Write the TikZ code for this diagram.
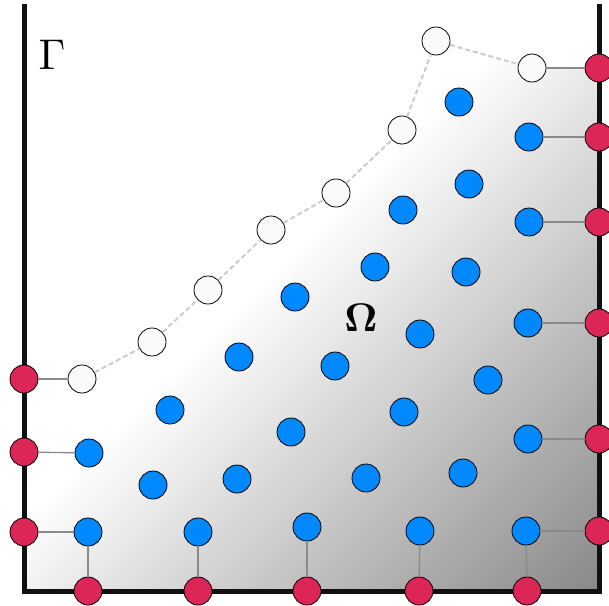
\documentclass[tikz,border=0pt]{standalone}
\usetikzlibrary{calc}
\definecolor{bnode}{HTML}{0088FF}
\definecolor{rnode}{HTML}{DC2657}
\definecolor{wnode}{HTML}{FAFAFA}
\definecolor{wall}{HTML}{111111}
\definecolor{conn}{HTML}{8A8A8A}
\definecolor{dashc}{HTML}{CCCCCC}
\pgfdeclareverticalshading{diagshade}{100bp}{color(0bp)=(black!48); color(15bp)=(black!48); color(54bp)=(white); color(100bp)=(white)}
\tikzset{
  pt/.style={circle, draw=black, line width=0.8pt, minimum size=28pt, inner sep=0pt},
  inner/.style={pt, fill=bnode},
  bnd/.style={pt, fill=rnode},
  ghost/.style={pt, fill=wnode},
  link/.style={draw=conn, line width=1.3pt},
  hull/.style={draw=dashc, line width=2pt, dash pattern=on 5pt off 3pt},
  wallline/.style={draw=wall, line width=5pt, line join=miter},
}
\begin{document}
\begin{tikzpicture}[x=1pt,y=-1pt]
\useasboundingbox (0,0) rectangle (609,605);
% shaded domain
\begin{scope}
\clip (24,379) -- (82,379) -- (152,342) -- (208,290) -- (271,230) -- (336,193)
  -- (402,130) -- (436,41) -- (532,68) -- (599,68) -- (599,591) -- (24,591) -- cycle;
\shade[shading=diagshade, shading angle=45] (0,0) rectangle (610,610);
\end{scope}
% walls
\draw[wallline] (24,4) -- (24,591) -- (599,591) -- (599,4);
% ghost nodes
\node[ghost] (g1) at (82,379) {};
\node[ghost] (g2) at (152,342) {};
\node[ghost] (g3) at (208,290) {};
\node[ghost] (g4) at (271,230) {};
\node[ghost] (g5) at (336,193) {};
\node[ghost] (g6) at (402,130) {};
\node[ghost] (g7) at (436,41) {};
\node[ghost] (g8) at (532,68) {};
\draw[hull] (g1) -- (g2) -- (g3) -- (g4) -- (g5) -- (g6) -- (g7) -- (g8);
% inner nodes
\node[inner] (i1) at (459,102) {};
\node[inner] (i2) at (529,137) {};
\node[inner] (i3) at (403,210) {};
\node[inner] (i4) at (469,184) {};
\node[inner] (i5) at (529,222) {};
\node[inner] (i6) at (375,267) {};
\node[inner] (i7) at (466,272) {};
\node[inner] (i8) at (295,297) {};
\node[inner] (i9) at (528,323) {};
\node[inner] (i10) at (420,334) {};
\node[inner] (i11) at (239,357) {};
\node[inner] (i12) at (335,366) {};
\node[inner] (i13) at (488,380) {};
\node[inner] (i14) at (170,410) {};
\node[inner] (i15) at (404,412) {};
\node[inner] (i16) at (291,432) {};
\node[inner] (i17) at (528,439) {};
\node[inner] (i18) at (89,453) {};
\node[inner] (i19) at (463,473) {};
\node[inner] (i20) at (237,479) {};
\node[inner] (i21) at (366,478) {};
\node[inner] (i22) at (153,485) {};
\node[inner] (i23) at (88,532) {};
\node[inner] (i24) at (198,532) {};
\node[inner] (i25) at (307,527) {};
\node[inner] (i26) at (420,531) {};
\node[inner] (i27) at (526,531) {};
% boundary nodes
\node[bnd] (l1) at (24,379) {};
\node[bnd] (l2) at (24,452) {};
\node[bnd] (l3) at (24,532) {};
\node[bnd] (b1) at (88,591) {};
\node[bnd] (b2) at (198,591) {};
\node[bnd] (b3) at (307,591) {};
\node[bnd] (b4) at (419,591) {};
\node[bnd] (b5) at (527,591) {};
\node[bnd] (r1) at (599,68) {};
\node[bnd] (r2) at (599,137) {};
\node[bnd] (r3) at (599,222) {};
\node[bnd] (r4) at (599,323) {};
\node[bnd] (r5) at (599,439) {};
\node[bnd] (r6) at (599,531) {};
% links
\draw[link] (l1) -- (g1);
\draw[link] (l2) -- (i18);
\draw[link] (l3) -- (i23);
\draw[link] (b1) -- (i23);
\draw[link] (b2) -- (i24);
\draw[link] (b3) -- (i25);
\draw[link] (b4) -- (i26);
\draw[link] (b5) -- (i27);
\draw[link] (r1) -- (g8);
\draw[link] (r2) -- (i2);
\draw[link] (r3) -- (i5);
\draw[link] (r4) -- (i9);
\draw[link] (r5) -- (i17);
\draw[link] (r6) -- (i27);
% labels
\node[scale=4.3, inner sep=0pt] (gamma) at (52,55) {$\Gamma$};
\node[scale=4.0, inner sep=0pt] (omega) at (361,318) {$\mathbf{\Omega}$};
\end{tikzpicture}
\end{document}
